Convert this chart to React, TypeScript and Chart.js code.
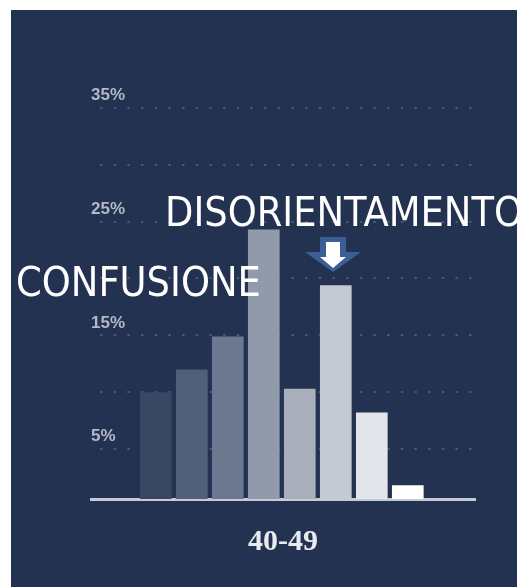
import { useEffect, useRef } from 'react';
import { Chart, registerables } from 'chart.js';

Chart.register(...registerables);

// ---- data ----
const ageGroup = '40-49';
const barSlots = [1, 2, 3, 4, 5, 6, 7, 8];
const shares = [10.0, 12.0, 14.9, 24.3, 10.3, 19.4, 8.2, 1.8];
const gridValues = [5, 10, 15, 20, 25, 30, 35];
const labelledValues = [5, 15, 25, 35];
const noteLeft = 'CONFUSIONE';
const noteTop = 'DISORIENTAMENTO';

// ---- styles ----
const barColors = ['#3a4762', '#525f79', '#6c788f', '#919aab', '#a8aebc', '#c5c9d3', '#e3e5ea', '#ffffff'];
const BG = '#233250';

export default function App() {
  const ref = useRef<HTMLCanvasElement>(null);

  useEffect(() => {
    const chart = new Chart(ref.current as HTMLCanvasElement, {
      type: 'bar',
      data: {
        datasets: [
          {
            data: barSlots.map((x, i) => ({ x, y: shares[i] })),
            backgroundColor: barColors,
            borderWidth: 0,
            categoryPercentage: 0.88,
            barPercentage: 1,
          },
        ],
      },
      options: {
        responsive: false,
        animation: false,
        events: [],
        layout: { padding: { left: 91, right: 42, top: 108, bottom: 30 } },
        plugins: { legend: { display: false }, tooltip: { enabled: false } },
        scales: {
          x: {
            type: 'linear',
            min: -0.8,
            max: 9.867,
            offset: false,
            grid: { display: false, drawTicks: false },
            ticks: { display: false },
            border: { display: true, color: '#c5cad4', width: 3 },
            title: {
              display: true,
              text: ageGroup,
              color: '#e8ebf0',
              font: { family: '"Liberation Serif", "Times New Roman", serif', size: 30, weight: 'bold', lineHeight: 1 },
              padding: { top: 28, bottom: 0 },
            },
          },
          y: {
            type: 'linear',
            min: 0.6,
            max: 35,
            afterBuildTicks: (s: any) => {
              s.ticks = gridValues.map((v) => ({ value: v }));
            },
            afterFit: (s: any) => {
              s.paddingTop = 0;
              s.paddingBottom = 0;
            },
            grid: { color: '#4a5775', lineWidth: 2, drawTicks: false },
            border: { display: false, dash: [2.5, 11.17], dashOffset: 4.67 },
            ticks: {
              mirror: true,
              padding: 0,
              labelOffset: -12.5,
              color: '#b3b9c7',
              font: { family: '"Liberation Sans", Arial, sans-serif', size: 17, weight: 'bold' },
              callback: (v: any) => (labelledValues.includes(Number(v)) ? `${v}%` : ''),
            },
          },
        },
      } as any,
    });
    return () => chart.destroy();
  }, []);

  const noteFont: any = {
    position: 'absolute',
    fontFamily: '"DejaVu Sans Condensed", "DejaVu Sans", sans-serif',
    fontStretch: 'condensed',
    fontSize: 41,
    lineHeight: '41px',
    color: '#ffffff',
    whiteSpace: 'nowrap',
    margin: 0,
  };

  return (
    <div style={{ position: 'absolute', left: 0, top: 0, width: 517, height: 587, overflow: 'hidden' }}>
      <div style={{ position: 'absolute', left: 11, top: 10, width: 506, height: 577, background: BG }} />
      <canvas
        ref={ref}
        width={517}
        height={587}
        style={{ position: 'absolute', left: 0, top: 0, width: 517, height: 587, display: 'block' }}
      />
      <svg width={517} height={587} style={{ position: 'absolute', left: 0, top: 0 }}>
        <polygon points="320,237 346,237 346,252 361,252 333,272 305,252 320,252" fill="#3d5e95" />
        <polygon points="326,242 340,242 340,257 346,257 333,268 320,257 326,257" fill="#ffffff" />
      </svg>
      <div style={{ ...noteFont, left: 16, top: 262 }}>{noteLeft}</div>
      <div style={{ ...noteFont, left: 165, top: 192 }}>{noteTop}</div>
    </div>
  );
}
